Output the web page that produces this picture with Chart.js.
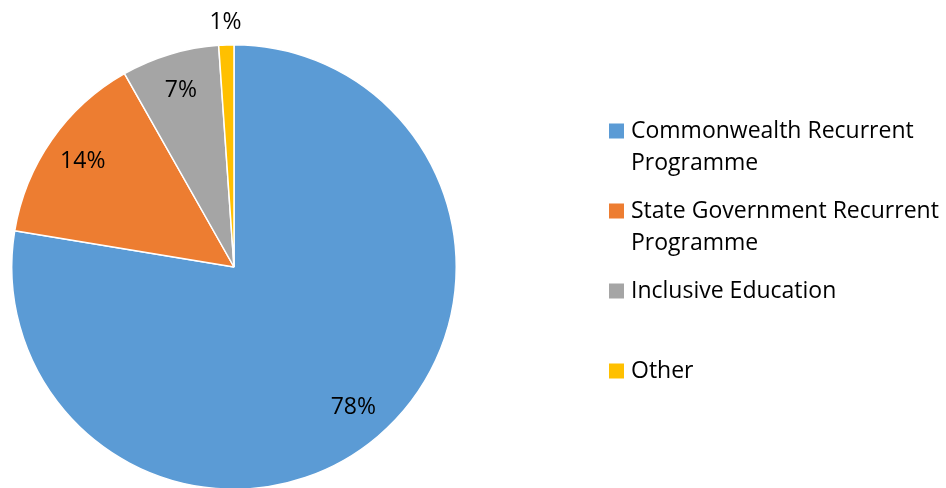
<!DOCTYPE html>
<html>
<head>
<meta charset="utf-8">
<script src="https://cdn.jsdelivr.net/npm/chart.js@4.4.1/dist/chart.umd.min.js"></script>
<style>
  html, body { margin: 0; padding: 0; background: #fff; overflow: hidden; }
  #wrap { width: 946px; height: 500px; position: relative; }
</style>
</head>
<body>
<div id="wrap"><canvas id="pieChart"></canvas></div>
<script>
// Datos del gráfico
const categories = [
    ["Commonwealth Recurrent", "Programme"],
    ["State Government Recurrent", "Programme"],
    ["Inclusive Education"],
    ["Other"]
];
const shares = [77.6, 14.2, 7.1, 1.1];
const sliceColors = ["#5B9BD5", "#ED7D31", "#A5A5A5", "#FFC000"];

const FONT = "'Open Sans', Lato, sans-serif";

// Etiquetas de porcentaje sobre cada porción
const pctLabels = {
    id: "pctLabels",
    afterDatasetsDraw(chart) {
        const ctx = chart.ctx;
        const meta = chart.getDatasetMeta(0);
        const total = shares.reduce((a, b) => a + b, 0);
        ctx.save();
        ctx.font = "23px " + FONT;
        ctx.fillStyle = "#000";
        ctx.textAlign = "center";
        ctx.textBaseline = "middle";
        meta.data.forEach((arc, i) => {
            const pct = shares[i] / total * 100;
            const mid = (arc.startAngle + arc.endAngle) / 2;
            const f = pct < 3 ? 1.1 : 0.83;
            const r = arc.outerRadius * f;
            ctx.fillText(Math.round(pct) + "%", arc.x + Math.cos(mid) * r, arc.y + Math.sin(mid) * r);
        });
        ctx.restore();
    }
};

// Leyenda a la derecha, con textos de varias líneas
const sideLegend = {
    id: "sideLegend",
    afterDraw(chart) {
        const ctx = chart.ctx;
        const x0 = 609, y0 = 131, step = 80, lineH = 32, box = 15;
        ctx.save();
        ctx.font = "23px " + FONT;
        ctx.textBaseline = "middle";
        categories.forEach((lines, i) => {
            const y = y0 + i * step;
            ctx.fillStyle = sliceColors[i];
            ctx.fillRect(x0, y - box / 2, box, box);
            ctx.fillStyle = "#000";
            lines.forEach((t, j) => ctx.fillText(t, x0 + 22, y + j * lineH));
        });
        ctx.restore();
    }
};

new Chart(document.getElementById("pieChart"), {
    type: "pie",
    data: {
        labels: categories.map(c => c.join(" ")),
        datasets: [{
            data: shares,
            backgroundColor: sliceColors,
            borderColor: "#fff",
            borderWidth: 1.5
        }]
    },
    options: {
        responsive: true,
        maintainAspectRatio: false,
        animation: false,
        layout: { padding: { top: 44, bottom: 10, left: 11, right: 489 } },
        plugins: {
            legend: { display: false },
            tooltip: { enabled: false }
        }
    },
    plugins: [pctLabels, sideLegend]
});
</script>
</body>
</html>
